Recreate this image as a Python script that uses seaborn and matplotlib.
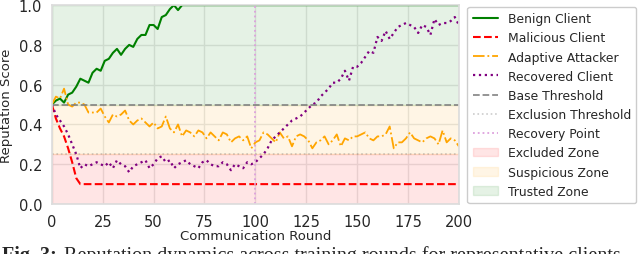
import numpy as np
import pandas as pd
import matplotlib
matplotlib.use("Agg")
import matplotlib.pyplot as plt
import seaborn as sns

# rounds sampled every 2 communication rounds
rounds = np.arange(0, 201, 2)

benign = [
    0.50, 0.52, 0.53, 0.51, 0.55, 0.56, 0.59, 0.63, 0.62, 0.61,
    0.66, 0.68, 0.67, 0.72, 0.73, 0.76, 0.78, 0.75, 0.78, 0.80,
    0.79, 0.83, 0.85, 0.85, 0.90, 0.90, 0.88, 0.94, 0.95, 0.98,
    1.00, 0.975, 1.00,
] + [1.00] * 68

malicious = [0.50, 0.43, 0.38, 0.34, 0.28, 0.21, 0.13, 0.10] + [0.10] * 93

adaptive = [
    0.50, 0.54, 0.53, 0.58, 0.50, 0.49, 0.51, 0.51, 0.50, 0.46,
    0.46, 0.46, 0.48, 0.44, 0.41, 0.45, 0.44, 0.45, 0.47, 0.42,
    0.40, 0.42, 0.43, 0.41, 0.39, 0.41, 0.38, 0.39, 0.44, 0.38,
    0.36, 0.40, 0.34, 0.37, 0.36, 0.34, 0.37, 0.36, 0.33, 0.36,
    0.34, 0.32, 0.36, 0.35, 0.31, 0.33, 0.34, 0.32, 0.34, 0.28,
    0.31, 0.32, 0.36, 0.35, 0.33, 0.31, 0.36, 0.33, 0.34, 0.29,
    0.34, 0.35, 0.34, 0.32, 0.28, 0.31, 0.32, 0.34, 0.30, 0.32,
    0.35, 0.29, 0.33, 0.32, 0.34, 0.34, 0.35, 0.36, 0.33, 0.32,
    0.34, 0.34, 0.35, 0.39, 0.28, 0.31, 0.31, 0.33, 0.36, 0.33,
    0.32, 0.31, 0.33, 0.34, 0.33, 0.30, 0.37, 0.31, 0.33, 0.32,
    0.29,
]

recovered = [
    0.50, 0.45, 0.42, 0.39, 0.35, 0.30, 0.25, 0.18, 0.20, 0.19,
    0.20, 0.21, 0.20, 0.19, 0.21, 0.18, 0.22, 0.20, 0.19, 0.16,
    0.19, 0.20, 0.21, 0.22, 0.18, 0.20, 0.23, 0.24, 0.21, 0.22,
    0.18, 0.20, 0.21, 0.22, 0.20, 0.19, 0.18, 0.21, 0.22, 0.20,
    0.19, 0.19, 0.21, 0.20, 0.17, 0.20, 0.19, 0.18, 0.21, 0.20,
    0.21, 0.23, 0.25, 0.28, 0.32, 0.34, 0.36, 0.38, 0.40, 0.42,
    0.43, 0.44, 0.46, 0.48, 0.50, 0.51, 0.54, 0.56, 0.58, 0.61,
    0.61, 0.63, 0.67, 0.62, 0.69, 0.69, 0.71, 0.74, 0.77, 0.76,
    0.84, 0.82, 0.87, 0.83, 0.86, 0.89, 0.90, 0.91, 0.90, 0.89,
    0.86, 0.90, 0.89, 0.85, 0.93, 0.90, 0.91, 0.91, 0.92, 0.94,
    0.90,
]

base_threshold = 0.5
exclusion_threshold = 0.25
recovery_round = 100

sns.set_theme(style="whitegrid")
plt.rcParams["axes.edgecolor"] = "#dddddd"
plt.rcParams["grid.color"] = "#e6e6e6"

fig, ax = plt.subplots(figsize=(6.4, 2.55), dpi=100)
fig.subplots_adjust(left=0.081, right=0.717, top=0.976, bottom=0.196)

df = pd.DataFrame({"round": rounds, "benign": benign, "malicious": malicious,
                   "adaptive": adaptive, "recovered": recovered})

sns.lineplot(data=df, x="round", y="benign", ax=ax, color="green",
             linewidth=1.5, label="Benign Client")
sns.lineplot(data=df, x="round", y="malicious", ax=ax, color="red",
             linestyle="--", linewidth=1.5, label="Malicious Client")
sns.lineplot(data=df, x="round", y="adaptive", ax=ax, color="orange",
             linestyle="-.", linewidth=1.3, label="Adaptive Attacker")
sns.lineplot(data=df, x="round", y="recovered", ax=ax, color="purple",
             linestyle=":", linewidth=1.6, label="Recovered Client")

ax.axhline(base_threshold, color="gray", linestyle="--", linewidth=1.3,
           alpha=0.9, label="Base Threshold")
ax.axhline(exclusion_threshold, color="gray", linestyle=":", linewidth=1.2,
           alpha=0.4, label="Exclusion Threshold")
ax.axvline(recovery_round, color="plum", linestyle=":", linewidth=1.3,
           label="Recovery Point")

ax.axhspan(0, exclusion_threshold, color="red", alpha=0.1, label="Excluded Zone")
ax.axhspan(exclusion_threshold, base_threshold, color="orange", alpha=0.1,
           label="Suspicious Zone")
ax.axhspan(base_threshold, 1.0, color="green", alpha=0.1, label="Trusted Zone")

ax.set_xlim(0, 200)
ax.set_ylim(0, 1.0)
ax.set_xticks(np.arange(0, 201, 25))
ax.set_yticks(np.arange(0, 1.01, 0.2))
ax.tick_params(labelsize=10.5, pad=1)
ax.set_xlabel("Communication Round", fontsize=9.5, labelpad=0)
ax.set_ylabel("Reputation Score", fontsize=9.5, labelpad=4)

ax.legend(loc="upper left", bbox_to_anchor=(1.015, 1.005), fontsize=8.9,
          handlelength=2.0, handletextpad=0.8, labelspacing=0.5,
          borderpad=0.45, borderaxespad=0.2, framealpha=1)

fig.text(0.003, 0.036, "Fig. 3:", fontsize=14.5, fontweight="bold",
         family="Liberation Serif", va="top")
fig.text(0.1, 0.036, "Reputation dynamics across training rounds for representative clients",
         fontsize=14.5, family="Liberation Serif", va="top")

fig.savefig("out.png", dpi=100)
